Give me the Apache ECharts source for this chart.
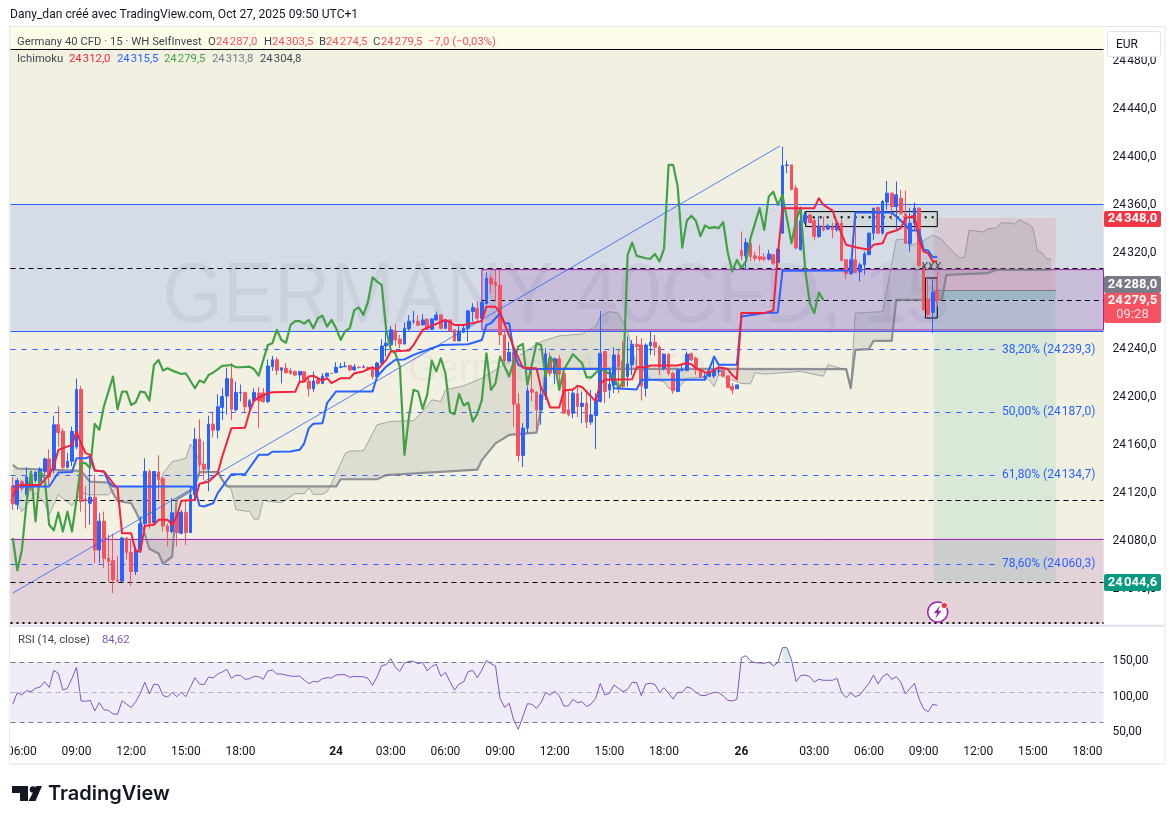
<!DOCTYPE html>
<html><head><meta charset="utf-8">
<script src="https://cdn.jsdelivr.net/npm/echarts@6/dist/echarts.min.js"></script>
<style>html,body{margin:0;padding:0;background:#fff}#c{width:1175px;height:824px}</style></head>
<body><div id="c"></div>
<script>
const opens=[24124.5,24109,24128,24117,24132,24129,24128,24136.5,24147,24138.5,
24175.5,24170,24140,24145,24157,24205,24113.5,24110,24115,24071,
24095,24064,24062,24046,24045,24081,24069,24053,24071,24093,
24136.5,24094,24136,24130.5,24091,24086.5,24102,24085,24102.5,24085.5,
24117,24163.5,24142.5,24138.5,24176,24171,24190,24199.5,24214,24188,
24202,24202.5,24190.5,24195.5,24202,24202,24195,24224,24229.7,24221,
24222.7,24220.5,24219.7,24217,24219.7,24212,24205.5,24213,24210,24216,
24218.5,24219,24223.5,24224,24225,24221.3,24223.5,24223.5,24223.3,24221.8,
24215.8,24227,24241.3,24242,24254,24247,24243,24255.5,24261.9,24262,
24258.8,24263.6,24255.2,24263,24267.2,24256,24263,24254.7,24245.5,24252.7,
24256,24270,24272.7,24264.4,24276.4,24297.8,24294.4,24292,24250.5,24228.8,
24236,24192.7,24149.9,24172.7,24205,24202.7,24188,24199.6,24231,24218.5,
24230.5,24218.5,24188,24185.2,24201.3,24190.7,24193.5,24177.7,24183.2,24195,
24236.6,24204.6,24208.8,24233.8,24228.8,24215.8,24225.5,24242.7,24242,24206,
24241.6,24244.4,24240.2,24222.7,24234.4,24218.5,24203.3,24221,24220.8,24234.7,
24231,24221.3,24215.2,24215.8,24216.3,24220,24220.5,24216.3,24207.4,24205.7,
24321,24316.5,24327,24316.5,24315.7,24315.4,24313.7,24317.4,24311,24335.4,
24391.9,24392.4,24373,24321.5,24344.6,24350.7,24345.7,24332.6,24341.5,24338.8,
24340.4,24338.2,24343.8,24313.2,24301.5,24313.2,24303.2,24309,24317.4,24335.4,
24356.8,24335.4,24361.3,24368.8,24357.7,24364.6,24351.5,24326.5,24343.8,24356.3,
24308.2,24280.4,24269.3,24287];
const closes=[24109.5,24129,24122.5,24132,24122.5,24136,24138.5,24147,24132,24175.5,
24169,24140,24145,24170,24205,24111.5,24112,24115,24071,24095,
24064,24061.5,24046,24045,24081,24069,24053,24071,24093,24136.5,
24093,24136.5,24129.5,24091,24086.5,24102,24085.5,24102.5,24085.5,24117,
24163.5,24142,24138.5,24176,24171,24190.5,24199,24214,24188.5,24202.5,
24202.5,24190.5,24195.5,24202.5,24195.5,24195,24224.5,24229.7,24221,24223,
24219,24218.5,24217,24220,24211.6,24205.5,24212,24210,24216,24218.5,
24218.3,24223.5,24224,24224.4,24221.3,24223.8,24223.3,24223.8,24222,24215.8,
24227,24241.3,24243.6,24254.7,24246.3,24243,24256,24262,24262,24258.6,
24263,24255.2,24263.8,24267.2,24256,24263,24254,24245.5,24253.8,24256,
24270.5,24273.3,24264.4,24277.5,24297.8,24293,24291.7,24250.5,24228.8,24236,
24192.7,24149.9,24172.7,24203.8,24202.7,24188,24200.5,24234.7,24218.5,24230.5,
24217.7,24185.2,24183.8,24201.9,24190.7,24193.5,24177.7,24183.8,24196.3,24235.2,
24203.3,24209.4,24233.8,24224,24207.4,24226.3,24242.7,24240.8,24208,24242,
24244.4,24240.2,24223.5,24234.4,24218.5,24204,24221.3,24221.6,24234.4,24229.7,
24221.3,24215.2,24215.8,24220,24221.3,24220.5,24216.3,24206.6,24204.6,24208.8,
24316.5,24327.6,24316,24314.3,24313.7,24313.7,24318,24310.4,24322,24391.6,
24392.4,24372,24323,24345.7,24350.7,24344.3,24332.6,24341.5,24338.2,24341.5,
24338.2,24343.8,24312.6,24301.5,24313.2,24302.6,24309,24318.2,24335.4,24356.3,
24335.4,24361.8,24368.8,24357.7,24367.4,24352,24327,24343.8,24356.3,24308.2,
24271.5,24267.3,24286,24279.5];
const highs=[24132,24131,24129.5,24140,24136.5,24136.5,24140,24148,24155,24183,
24191,24172.5,24152,24174,24214,24208,24124,24150,24134,24102,
24103,24084,24084.5,24066,24082,24082,24079,24074,24099,24147.5,
24138,24136.5,24150,24132,24093,24114.5,24103,24104.5,24113,24124,
24173,24180,24161.5,24183,24186.5,24201,24206,24223,24227,24211.5,
24209,24202.5,24197,24206,24207,24206,24230,24233,24232,24223,
24227,24222.7,24221,24220,24219.7,24216,24220,24214,24218.5,24219,
24218.5,24227.7,24227,24228,24225.5,24226.3,24224.4,24225.5,24224,24224,
24228,24246.9,24253.3,24258,24260,24250.5,24260.8,24267,24270.5,24267,
24267.7,24264.4,24264.4,24270,24267.2,24263.6,24263.6,24255.2,24258.3,24259.4,
24271.4,24277,24278.3,24279,24302.8,24301.4,24304.7,24304.7,24253.3,24245,
24236.6,24201.9,24176.8,24207.4,24224,24203.3,24208,24239.4,24235.8,24231.6,
24233.8,24220,24203.3,24205,24207.4,24203.3,24204.6,24204.6,24201.9,24270.5,
24236.6,24222.7,24240.2,24238,24245.5,24249,24246.3,24249.7,24247.7,24243.5,
24254,24250.5,24242,24235.2,24235.2,24220,24222.7,24225.5,24236.6,24235.8,
24232.4,24222.7,24218.5,24220,24232.4,24224.6,24221.3,24217,24210.2,24208.8,
24336.8,24331.3,24331.3,24320,24325.7,24318.7,24321.5,24317.4,24323,24407.7,
24396,24392.4,24375.7,24357.7,24353.5,24351.5,24348,24349.9,24349.3,24343.2,
24344.3,24345,24348,24313.2,24313.2,24352,24311,24320,24336,24356.3,
24357.7,24363,24379,24369.3,24378.5,24371.6,24371,24356.3,24361,24356.8,
24310.4,24297.9,24297.9,24303.5];
const lows=[24104.5,24104.5,24120,24110,24120,24127,24124,24134,24125,24135,
24157,24138,24139,24141,24155,24103,24089,24092,24060,24060,
24056,24044,24035,24043.5,24044,24063,24041,24050,24068.5,24085,
24089,24093,24113,24086.5,24074,24085,24074,24084,24075,24085,
24113,24134,24129.5,24120,24165,24164,24179.5,24184,24179.5,24186.5,
24195,24185,24186,24195,24172.5,24194,24193.5,24220.5,24217,24210,
24218,24217,24216,24210,24211,24199,24203,24209,24209.6,24215,
24218.3,24218.5,24222.7,24223.5,24220,24220.5,24222.4,24222.7,24221.3,24213.5,
24215,24225.5,24232.4,24240.8,24241.3,24239.4,24242.2,24254,24259.7,24258,
24258.6,24254.7,24254.7,24262.5,24255.2,24255.5,24253.6,24245,24245,24252,
24245,24261.6,24260.2,24260.2,24276,24285.3,24278.3,24242.2,24226.9,24228.3,
24174,24144.9,24140.2,24168.5,24195,24170.7,24175.4,24196.3,24215.8,24209.6,
24204.6,24184.6,24182.4,24181,24181.8,24176.8,24172.7,24175.4,24155.2,24194,
24193.5,24197.7,24201.9,24201.9,24206,24207.4,24217,24224,24195.7,24199,
24233.8,24233,24217,24220.8,24217,24201.3,24202.7,24220,24220,24228.3,
24217,24214.4,24212.4,24215.2,24214.4,24217,24215.2,24206,24201,24205.7,
24312.6,24304.8,24311.8,24311.8,24311.8,24311.8,24312.6,24309,24307,24334.9,
24385.5,24371,24322,24321,24343,24343.8,24329.3,24331.3,24336.8,24338.2,
24331.3,24336.8,24311.8,24297,24300.7,24302,24295,24300.7,24317.4,24329.9,
24334.9,24334,24355,24346.5,24338.2,24350.7,24326.5,24320,24338.2,24307.6,
24271,24265.9,24252,24274.5];

const tenkan=[[0,24115.6],[1,24124.5],[2,24125.3],[6,24125.3],[8,24133.7],[9,24140.6],[10,24154.5],[13,24158.7],[14,24169.8],[15,24160],[16,24151.8],[17,24150.4],[18,24137.3],[20,24136.5],[22,24126.7],[23,24122.6],[24,24085],[26,24085],[27,24069.7],[28,24069.7],[29,24091],[31,24092],[32,24096.2],[34,24096.2],[35,24092],[36,24099],[37,24112],[40,24112.8],[41,24126.2],[43,24128],[45,24135],[46,24149],[48,24172.6],[51,24173],[52,24186.5],[53,24196],[56,24201.8],[57,24202.6],[62,24203],[63,24211.5],[64,24211.5],[65,24215.8],[66,24216.4],[68,24212.4],[69,24214.4],[70,24210.2],[72,24214.4],[74,24214.4],[75,24218.5],[77,24220],[79,24223.5],[80,24221.3],[82,24229.7],[83,24236.6],[87,24237.5],[88,24242],[90,24254.7],[95,24263],[97,24258.8],[99,24258.8],[103,24262],[104,24274],[106,24274],[107,24269],[110,24240],[112,24223],[115,24222.7],[116,24206],[117,24200.5],[118,24190],[120,24190],[121,24204],[123,24205],[124,24208],[125,24207],[126,24203],[128,24195],[129,24210],[130,24213],[136,24213.5],[137,24223.5],[139,24223.5],[140,24225],[146,24225],[148,24227],[149,24226],[150,24222.7],[152,24219.4],[153,24219],[155,24223.5],[157,24222],[158,24217],[159,24213.5],[160,24268.7],[165,24268.7],[167,24271],[168,24317.4],[169,24356.3],[176,24356.3],[177,24364.6],[178,24359],[180,24354.3],[181,24343.8],[183,24325.7],[185,24323.7],[188,24321.5],[189,24325.7],[191,24327],[192,24335.4],[194,24337.6],[195,24339.6],[196,24348],[198,24350],[199,24329.9],[200,24320],[201,24318.7],[202,24311.8],[203,24312]];
const kijun=[[0,24124],[8,24124],[10,24135.6],[13,24136],[14,24147.6],[16,24147.6],[17,24149],[18,24137.3],[20,24136.5],[21,24128],[22,24124],[39,24124],[40,24122.6],[41,24108],[42,24107.3],[44,24110],[45,24118.4],[48,24134.2],[51,24134.2],[54,24150.4],[56,24150.4],[57,24153],[61,24153.2],[63,24154.6],[64,24160],[65,24172.7],[66,24176.3],[68,24176.8],[69,24193.5],[71,24203.3],[79,24203.3],[80,24215.8],[82,24224],[84,24229.7],[86,24230],[88,24233.8],[92,24239.4],[94,24242],[100,24242.7],[103,24246.3],[104,24258.8],[105,24260.2],[107,24268.6],[108,24260.2],[109,24260.2],[110,24236.6],[111,24225.5],[113,24222],[131,24222],[132,24206],[137,24205],[138,24213],[152,24213],[154,24232.4],[155,24225.5],[159,24225.5],[160,24265.9],[165,24268.7],[168,24269.3],[169,24304],[184,24304.3],[185,24352.7],[193,24352.7],[196,24342.4],[197,24337.6],[199,24337.6],[200,24321.5],[201,24321],[202,24315.4],[203,24315.5]];
const chikou=[[0,24081],[1,24053.9],[2,24071],[3,24110],[4,24136.5],[5,24094.8],[6,24136.5],[7,24130.9],[8,24092],[9,24087.3],[10,24102.3],[11,24086.4],[12,24103],[13,24086.4],[14,24112.8],[15,24143.4],[16,24143.4],[17,24139.3],[18,24176.2],[19,24171.2],[20,24190.7],[22,24215.7],[23,24188.5],[24,24203.2],[25,24203.2],[26,24192],[27,24194.3],[28,24203.2],[29,24202.6],[30,24195.7],[31,24225.4],[32,24229.6],[33,24220.7],[34,24222.6],[35,24220.7],[37,24217.9],[38,24218.5],[40,24206],[41,24212.4],[42,24210.7],[43,24217],[44,24219],[46,24224.6],[48,24225.4],[49,24223.5],[50,24223.5],[52,24224],[53,24221.8],[54,24216.5],[55,24229.6],[56,24242],[57,24243.6],[58,24254.7],[59,24246.3],[60,24244],[61,24258.8],[62,24262],[63,24262],[64,24260],[65,24263],[66,24256],[67,24264.4],[68,24266.6],[69,24257.5],[70,24263],[71,24256],[72,24246.3],[73,24253.8],[74,24256],[75,24271.4],[76,24273.3],[77,24267.2],[78,24278.3],[79,24298.6],[80,24295],[81,24292.2],[82,24254.7],[83,24238],[84,24235.2],[85,24224],[86,24150.4],[87,24182.4],[88,24204.6],[89,24203.3],[90,24188.8],[91,24200.5],[92,24229],[93,24220],[94,24231],[95,24218.5],[96,24186],[97,24184.3],[98,24201.3],[99,24191.6],[100,24194],[101,24178.2],[102,24184.6],[103,24196.3],[104,24235.2],[105,24204.6],[106,24210],[107,24232.4],[109,24215.8],[111,24240.8],[112,24243],[113,24208.8],[115,24243.6],[116,24242],[117,24215.8],[118,24232.4],[119,24226.9],[120,24204.6],[121,24221.3],[123,24234.4],[125,24226.9],[126,24215],[127,24215],[129,24222.7],[132,24215.8],[133,24206],[134,24211.6],[135,24317],[136,24327.6],[137,24316.5],[139,24314.5],[140,24314],[141,24318],[142,24311.8],[143,24322.3],[144,24392.4],[145,24392.4],[146,24374.3],[147,24323.4],[148,24345.7],[149,24350],[150,24345.7],[151,24333],[152,24341.8],[153,24339.6],[154,24340.4],[155,24339.6],[156,24344.6],[157,24319],[158,24303.5],[159,24313.2],[160,24306.2],[161,24311.8],[162,24331.3],[164,24356.3],[165,24338.2],[166,24366],[167,24370],[168,24359],[169,24367.4],[171,24327],[172,24346.5],[173,24356.3],[174,24304.8],[175,24277],[176,24268.7],[177,24286],[178,24279.5]];
const spanA=[[0,24110],[1,24110],[2,24103],[4,24113],[5,24118.4],[7,24110],[8,24100.3],[10,24117],[13,24107.8],[15,24118.4],[17,24117],[21,24117],[23,24124],[32,24124],[33,24135],[35,24144.7],[38,24147.5],[39,24159.5],[41,24146],[43,24136],[45,24137],[46,24130],[48,24121],[49,24104.5],[52,24103],[53,24096.7],[54,24096.7],[55,24112.8],[56,24111.5],[59,24110.5],[62,24118],[64,24118],[65,24123],[66,24117.4],[68,24117.4],[69,24119.6],[70,24126.6],[71,24135],[73,24151.6],[74,24153.6],[77,24153.8],[80,24175.5],[83,24178.2],[88,24179],[90,24186.6],[92,24196.3],[94,24195],[95,24204.6],[99,24208],[103,24214.4],[106,24221.3],[112,24235.2],[116,24245],[120,24249.7],[125,24251.3],[128,24257.5],[129,24265.8],[131,24270],[133,24268.6],[135,24253.3],[137,24224],[138,24222.7],[140,24213],[143,24211.6],[144,24206],[146,24205],[148,24214.4],[152,24215],[153,24212.4],[154,24207.4],[155,24217],[160,24210],[162,24209.6],[163,24219],[165,24217.7],[173,24220],[178,24216],[179,24225.6],[183,24221.4],[184,24206.2],[185,24268.7],[191,24270],[194,24329.9],[196,24330.4],[197,24324.8],[200,24329.3],[202,24334],[204,24330.3],[206,24321.4],[208,24314.7],[209,24315.6],[210,24338],[213,24336.4],[214,24339],[216,24339.8],[217,24344],[219,24344],[220,24343],[221,24346.5],[223,24343],[224,24339.8],[225,24320.8],[226,24319],[227,24314],[228,24313.8]];
const spanB=[[0,24142],[1,24139],[15,24137],[16,24132.3],[17,24128],[21,24127.3],[22,24118.4],[23,24112],[26,24110],[27,24103],[28,24095],[29,24084],[30,24072],[32,24068],[33,24059.5],[35,24065.5],[36,24113],[39,24120],[40,24124],[41,24136],[45,24136],[46,24129.5],[47,24124],[71,24124],[72,24130],[80,24130],[82,24133.5],[102,24138],[103,24146],[106,24160],[109,24167],[115,24169],[116,24188],[117,24222.4],[183,24222],[184,24206],[185,24238],[188,24238.7],[189,24245.6],[193,24245.6],[194,24279.8],[204,24280],[205,24300.5],[214,24302],[216,24304.8],[228,24304.8]];
const rsi=[86.6,102.6,99.3,105.4,104,108.7,110.6,118.1,110.1,134,
129.8,106.3,108.7,122.8,138.3,90.9,90.4,91.8,76.8,88.5,
78.6,77.7,72.5,72.1,91.3,86.2,81.5,89.9,101.7,117.2,
100.7,114.8,113.4,98.4,96.5,103,97,103,97,110.1,
123.7,114.8,113.9,124.7,123.3,128.9,131.7,135.5,122.8,127,
127,121.4,122.3,125.6,125.1,121.4,133.1,134.5,128.9,128.9,
127.5,126,125.6,126,120.4,115.3,118.6,117.6,122.3,123.7,
123.3,127.5,128,128,124.2,125.6,125.1,125.1,122.8,112.9,
125.1,140.6,142,150.5,138.3,132.7,144.4,146.7,146.7,143.4,
145.3,133.1,139.7,142.5,125.6,131.2,118.1,106.3,114.8,117.6,
132.2,134,123.7,134.5,148.1,143.4,140.2,94.6,81.9,87.6,
64,50.9,68.8,87.1,86.2,80.5,88.5,103,99.3,104.5,
98.4,83.8,83.8,93.2,88.5,89.9,82.9,86.6,94.6,115.7,
99.3,101.7,113.4,108.7,104,107.3,117.2,116.7,98.4,114.8,
115.7,114.3,103,109.6,101.7,93.7,103,103,110.6,108.7,
103,98.8,98.4,101.2,103,102.6,97.9,91.8,90.9,93.2,
151.9,154.7,147.2,144.8,144.4,143.9,145.8,140.2,145.3,166,
166,148.6,118.1,126.5,127.5,125.1,117.6,121.4,120,120,
120,122.8,102.6,95.6,102.1,97,99.3,107.8,115.7,127.5,
114.8,125.1,129.3,121.4,125.1,117.2,100.7,108.2,115.7,93.7,
79.6,75.8,86.2,84.62];
const rsiBands=[145.8,103.1,60.8];
const tickIndex=[2,14,26,38,50,71,83,95,107,119,131,143,160,176,188,200,212,224,236];
const tickLabels=['06:00','09:00','12:00','15:00','18:00','24','03:00','06:00','09:00','12:00','15:00','18:00','26','03:00','06:00','09:00','12:00','15:00','18:00'];
const priceTicks=[24040,24080,24120,24160,24200,24240,24280,24320,24360,24400,24440,24480];
const rsiTicks=[50,100,150];
const fibPrices=[24239.3,24187,24134.7,24060.3];
const HS='\u200a';
const fibTexts=['38,20% (24'+HS+'239,3)','50,00% (24'+HS+'187,0)','61,80% (24'+HS+'134,7)','78,60% (24'+HS+'060,3)'];
const trendLine=[[0,24035],[168.5,24408.3]];

const BAR_COUNT=240, tickOf={};
tickIndex.forEach((k,n)=>tickOf[k]=tickLabels[n]);
const categories=Array.from({length:BAR_COUNT},(_,i)=>i in tickOf?tickOf[i]:'');
const candleData=opens.map((o,i)=>[o,closes[i],lows[i],highs[i]]);
const shift=a=>a.map(([i,v])=>[i+.5,v]);
const UP='#2962ff',DOWN='#f7525f';

// [x0,x1,priceTop,priceBottom,fill,stroke]
const zones=[
 [0,240,24507.5,24489.5,'#fdfce8',null],
 [0,240,24359.4,24253.4,'rgba(55,101,255,.15)',null],
 [0,240,24080.5,24009.2,'rgba(172,96,185,.2)',null],
 [103.5,240,24305,24254.6,'rgba(144,70,175,.2)','#9c27b0'],
 [202.7,229.5,24348,24287.7,'rgba(242,54,69,.11)',null],
 [202.7,229.5,24287.7,24044.6,'rgba(8,153,129,.1)',null],
 [202.7,229.5,24287.7,24279.5,'rgba(8,153,129,.12)',null]
];
// [x0,x1,price,color,width,dash,pixelOffset]
const hLines=[
 [0,240,24489.5,'#000',1,null,0],
 [0,240,24359.4,'#2962ff',1,null,0],
 [0,240,24253.4,'#2962ff',1,null,0],
 [0,240,24080.5,'#9c27b0',1,null,0],
 [0,240,24306,'#000',1,[5,4],0],
 [103.5,240,24279.3,'#000',1,[5,4],0],
 [0,240,24112.7,'#000',1,[5,4],0],
 [0,240,24044.6,'#000',1,[5,4],0],
 [0,240,24010,'#000',2,[2,4],0],
 [202.7,229.5,24287.7,'#787b86',1,null,0]
].concat(fibPrices.map(p=>[0,216.6,p,'#2962ff',1,[5,6],1]));
// drawn boxes above the candles
const boxes=[
 [174.6,203.5,24353.4,24340.9,'rgba(200,215,200,.45)','#000'],
 [200.9,203.5,24298,24264.6,null,'#000']
];

const rectItem=(api,z)=>{
 const a=api.coord([z[0],z[2]]),b=api.coord([z[1],z[3]]);
 return {type:'rect',shape:{x:a[0],y:a[1],width:b[0]-a[0],height:b[1]-a[1]},
  style:{fill:z[4]||'none',stroke:z[5]||null,lineWidth:1}};
};
const dummy=a=>a.map((_,k)=>[k,24300]);

const cloudPoly=spanA.map(s=>s).concat(spanB.slice().reverse());
const font='Roboto, sans-serif';
const LEG=11.3;
const txt=(x,y,s,fill,size,extra)=>Object.assign({type:'text',z:100,x,y,style:{text:s,fill,font:`${size||12}px ${font}`,textAlign:'left',textVerticalAlign:'middle',textBaseline:'middle'}},extra||{});
const rect=(x,y,w,h,fill,z,stroke)=>({type:'rect',z:z===undefined?100:z,shape:{x,y,width:w,height:h},style:{fill,stroke:stroke||null,lineWidth:1}});
const tag=(y,h,fill)=>({type:'rect',z:100,shape:{x:1104,y,width:57,height:h,r:2},style:{fill}});
const tagTxt=(y,s,fill,weight)=>({type:'text',z:101,x:1132.5,y,style:{text:s,fill:fill||'#fff',font:`${weight||'bold'} 13px ${font}`,textAlign:'center',textBaseline:'middle',textVerticalAlign:'middle'}});

const graphics=[
 rect(9,27,1095,597,'#f2f1e1',0),
 {type:'text',z:0,x:556,y:298,scaleX:.9,style:{text:'GERMANY 40CFD, 15',fill:'rgba(120,123,134,.11)',font:'86px "Liberation Sans", sans-serif',textAlign:'center',textBaseline:'middle',textVerticalAlign:'middle'}},
 {type:'text',z:0,x:557,y:371,style:{text:'Germany 40 CFD',fill:'rgba(120,123,134,.07)',font:'38px "Liberation Sans", sans-serif',textAlign:'center',textBaseline:'middle',textVerticalAlign:'middle'}},
 rect(1104,27,61,738,'#fff',0),
 // frame
 rect(0,0,9,824,'#fff',90),
 rect(0,742,10.5,20,'#fff',90),
 {type:'rect',z:92,shape:{x:9.5,y:26.5,width:1155.5,height:738},style:{fill:'none',stroke:'#e6e9f0',lineWidth:1}},
 rect(9,624.5,1156,2.5,'#e4e7ef',92),
 rect(9,763,1156,2,'#eef0f5',92),
 txt(10,15,'Dany_dan créé avec TradingView.com, Oct 27, 2025 09:50 UTC+1','#131722',12.1),
 txt(17,42,'Germany 40 CFD · 15 · WH SelfInvest','#434651',LEG),
 txt(208,42,'O','#434651',LEG),txt(216,42,'24'+HS+'287,0',DOWN,LEG),
 txt(264,42,'H','#434651',LEG),txt(272,42,'24'+HS+'303,5',DOWN,LEG),
 txt(319,42,'B','#434651',LEG),txt(326,42,'24'+HS+'274,5',DOWN,LEG),
 txt(373,42,'C','#434651',LEG),txt(381,42,'24'+HS+'279,5',DOWN,LEG),
 txt(428,42,'−7,0 (−0,03%)',DOWN,LEG),
 txt(17,59,'Ichimoku','#434651',LEG),
 txt(69,59,'24'+HS+'312,0','#f7263f',LEG),txt(117,59,'24'+HS+'315,5','#2962ff',LEG),
 txt(164,59,'24'+HS+'279,5','#43a047',LEG),txt(212,59,'24'+HS+'313,8','#787b86',LEG),txt(260,59,'24'+HS+'304,8','#434651',LEG),
 txt(18,640,'RSI (14, close)','#434651',LEG),txt(102,640,'84,62','#7e57c2',LEG),
 // EUR box
 {type:'rect',z:100,shape:{x:1107.5,y:31.5,width:53,height:25,r:2},style:{fill:'#fff',stroke:'#e0e3eb',lineWidth:1}},
 {type:'text',z:101,x:1127,y:44.5,style:{text:'EUR',fill:'#131722',font:`12px ${font}`,textAlign:'center',textBaseline:'middle',textVerticalAlign:'middle'}},
 // price tags
 tag(211,16,'#f23645'),tagTxt(219,'24'+HS+'348,0'),
 tag(276,17,'#787b86'),tagTxt(284.5,'24'+HS+'288,0'),
 tag(293,30,DOWN),tagTxt(301,'24'+HS+'279,5'),tagTxt(315,'09:28','rgba(255,255,255,.8)','normal'),
 tag(574,17,'#089981'),tagTxt(582.5,'24'+HS+'044,6'),
 // alert icon
 {type:'circle',z:100,shape:{cx:937.7,cy:612,r:10},style:{fill:'#fff',stroke:'#9c27b0',lineWidth:1.5}},
 {type:'polygon',z:101,shape:{points:[[940,605.5],[934,613],[937.2,613],[935.4,618.5],[941.6,610.8],[938.3,610.8]]},style:{fill:'#9c27b0'}},
 {type:'circle',z:102,shape:{cx:944.3,cy:605.5,r:3.2},style:{fill:'#f23645',stroke:'#fff',lineWidth:1}},
 // logo
 {type:'polygon',z:100,shape:{points:[[12,786],[28,786],[28,801],[20,801],[20,793],[12,793]]},style:{fill:'#131722'}},
 {type:'circle',z:100,shape:{cx:33,cy:789.5,r:3.3},style:{fill:'#131722'}},
 {type:'polygon',z:100,shape:{points:[[36.3,786],[42,786],[35.5,801],[28.5,801]]},style:{fill:'#131722'}},
 {type:'text',z:100,x:48,y:794,style:{text:'TradingView',fill:'#131722',font:'600 20px Inter, sans-serif',textAlign:'left',textBaseline:'middle',textVerticalAlign:'middle'}}
];

const lineS=(name,data,color,w,z,op)=>({name,type:'line',xAxisIndex:1,yAxisIndex:0,data:shift(data),showSymbol:false,silent:true,z,animation:false,
 lineStyle:{color,width:w,opacity:op===undefined?1:op,join:'round'},itemStyle:{color}});

const option={
 animation:false,
 backgroundColor:'#fff',
 graphic:{elements:graphics},
 grid:[{left:10.5,top:27,width:1093,height:597},{left:10.5,top:628,width:1093,height:112}],
 xAxis:[
  {type:'category',gridIndex:0,data:categories,show:false,boundaryGap:true},
  {type:'value',gridIndex:0,min:0,max:BAR_COUNT,show:false},
  {type:'category',gridIndex:1,data:categories,boundaryGap:true,
   axisLine:{show:false},axisTick:{show:false},splitLine:{show:false},
   axisLabel:{interval:(i)=>i in tickOf,margin:6,hideOverlap:false,showMinLabel:true,showMaxLabel:true,color:'#131722',fontFamily:font,fontSize:12,
    formatter:(v)=>/^\d\d$/.test(v)?`{b|${v}}`:v,rich:{b:{fontWeight:'bold',fontFamily:font,fontSize:12,color:'#131722'}}}}
 ],
 yAxis:[
  {type:'value',gridIndex:0,position:'right',min:24009.2,max:24507.5,
   axisLine:{show:false},axisTick:{show:false},splitLine:{show:false},
   axisLabel:{customValues:priceTicks,margin:9,verticalAlign:'top',lineHeight:3,color:'#131722',fontFamily:font,fontSize:12,
    formatter:v=>{const s=v.toFixed(1).replace('.',',');return s.slice(0,2)+HS+s.slice(2);}}},
  {type:'value',gridIndex:1,position:'right',min:35.9,max:193.7,
   axisLine:{show:false},axisTick:{show:false},splitLine:{show:false},
   axisLabel:{customValues:rsiTicks,margin:9,verticalAlign:'top',lineHeight:4,color:'#131722',fontFamily:font,fontSize:12,
    formatter:v=>v.toFixed(2).replace('.',',')}}
 ],
 series:[
  {type:'custom',name:'zones',xAxisIndex:1,yAxisIndex:0,z:1,silent:true,clip:true,data:dummy(zones),
   encode:{x:0,y:1},renderItem:(p,api)=>rectItem(api,zones[api.value(0)])},
  {type:'custom',name:'levels',xAxisIndex:1,yAxisIndex:0,z:1,silent:true,clip:true,data:dummy(hLines),
   encode:{x:0,y:1},renderItem:(p,api)=>{const h=hLines[api.value(0)],a=api.coord([h[0],h[2]]),b=api.coord([h[1],h[2]]);
    const y=Math.round(a[1])+(h[4]===1?.5:0)+h[6];
    return {type:'line',shape:{x1:a[0],y1:y,x2:b[0],y2:y},style:{stroke:h[3],lineWidth:h[4],lineDash:h[5]||null}};}},
  {type:'custom',name:'cloud',xAxisIndex:1,yAxisIndex:0,z:2,silent:true,clip:true,data:[[0,24300]],encode:{x:0,y:1},
   renderItem:(p,api)=>({type:'polygon',shape:{points:cloudPoly.map(([i,v])=>api.coord([i+.5,v]))},style:{fill:'rgba(120,123,134,.17)'}})},
  lineS('Span A',spanA,'#787b86',1,2,.6),
  lineS('Span B',spanB,'#787b86',2.2,2,.8),
  {type:'candlestick',name:'Germany 40 CFD',xAxisIndex:0,yAxisIndex:0,data:candleData,z:3,silent:true,barWidth:3.2,
   itemStyle:{color:UP,color0:DOWN,borderColor:UP,borderColor0:DOWN,borderWidth:1}},
  lineS('Trend',trendLine,'#2962ff',1,4,.8),
  lineS('Chikou',chikou,'#43a047',2.2,4),
  lineS('Kijun',kijun,'#2962ff',2,4),
  lineS('Tenkan',tenkan,'#f5223d',2,4),
  {type:'custom',name:'boxes',xAxisIndex:1,yAxisIndex:0,z:3,silent:true,clip:true,data:dummy(boxes),encode:{x:0,y:1},
   renderItem:(p,api)=>rectItem(api,boxes[api.value(0)])},
  {type:'custom',name:'dots',xAxisIndex:1,yAxisIndex:0,z:3,silent:true,clip:true,data:[[0,24348.7]],encode:{x:0,y:1},
   renderItem:(p,api)=>{const a=api.coord([174.6,24348.7]),b=api.coord([203.5,24348.7]);
    return {type:'line',shape:{x1:a[0],y1:a[1],x2:b[0],y2:b[1]},style:{stroke:'#000',lineWidth:2,lineDash:[2,5]}};}},
  {type:'custom',name:'fib labels',xAxisIndex:1,yAxisIndex:0,z:5,silent:true,clip:false,data:dummy(fibPrices),encode:{x:0,y:1},
   renderItem:(p,api)=>{const k=api.value(0),a=api.coord([217.7,fibPrices[k]]);
    return {type:'text',x:a[0],y:a[1]+1.5,style:{text:fibTexts[k],fill:'#2962ff',font:`12px ${font}`,textAlign:'left',textBaseline:'middle',textVerticalAlign:'middle'}};}},
  {type:'custom',name:'xxx',xAxisIndex:1,yAxisIndex:0,z:5,silent:true,clip:false,data:[[0,24307.3]],encode:{x:0,y:1},
   renderItem:(p,api)=>{const a=api.coord([199.9,24307.3]);
    return {type:'text',x:a[0],y:a[1],style:{text:'XXX',fill:'#434651',font:`italic 11px ${font}`,textAlign:'left',textBaseline:'middle',textVerticalAlign:'middle'}};}},
  {type:'line',name:'RSI',xAxisIndex:2,yAxisIndex:1,data:rsi,showSymbol:false,silent:true,z:4,
   lineStyle:{color:'#7e57c2',width:1},
   markArea:{silent:true,itemStyle:{color:'rgba(126,87,194,.11)'},data:[[{yAxis:rsiBands[0]},{yAxis:rsiBands[2]}]]},
   markLine:{silent:true,symbol:'none',label:{show:false},animation:false,
    data:[{yAxis:rsiBands[0],lineStyle:{color:'#787b86',type:[5,4],width:1,opacity:1}},
          {yAxis:rsiBands[1],lineStyle:{color:'rgba(120,123,134,.5)',type:[5,4],width:1,opacity:1}},
          {yAxis:rsiBands[2],lineStyle:{color:'#787b86',type:[5,4],width:1,opacity:1}}]}},
  {type:'custom',name:'RSI overbought',xAxisIndex:2,yAxisIndex:1,z:3,silent:true,clip:true,data:[[0,100]],encode:{x:0,y:1},
   renderItem:(p,api)=>{const idx=rsi.map((v,i)=>[i,v]).filter(d=>d[1]>rsiBands[0]&&d[0]>=168&&d[0]<=172);
    const pts=[api.coord([idx[0][0]-.5,rsiBands[0]])].concat(idx.map(d=>api.coord(d)),[api.coord([idx[idx.length-1][0]+.1,rsiBands[0]])]);
    return {type:'polygon',shape:{points:pts},style:{fill:'rgba(8,153,129,.16)'}};}}
 ]
};
const chart=echarts.init(document.getElementById('c'),null,{renderer:'canvas',width:1175,height:824});
chart.setOption(option);
</script></body></html>
